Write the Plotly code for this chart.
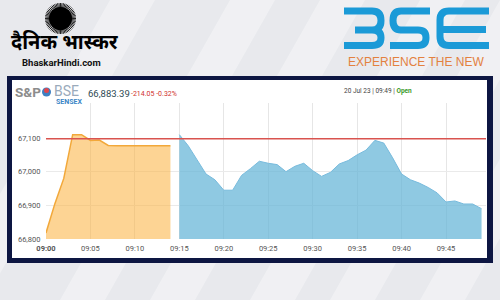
import math
import plotly.graph_objects as go

W, H = 500, 300
def px(x): return x / W
def py(y): return 1 - y / H

# ---------------- data ----------------
pre_open_times = [f"2023-07-20 09:{m:02d}" for m in range(0, 15)]
pre_open_values = [66818, 66905, 66980, 67110, 67110, 67093, 67094, 67078,
                   67077, 67077, 67077, 67077, 67077, 67077, 67077]

session_times = [f"2023-07-20 09:{m:02d}" for m in range(15, 50)]
session_values = [67110, 67077, 67035, 66993, 66976, 66945, 66945, 66989, 67009,
                  67031, 67025, 67021, 67000, 67016, 67025, 67003, 66986, 66998,
                  67023, 67033, 67050, 67064, 67093, 67085, 67041, 66993, 66976,
                  66966, 66953, 66937, 66910, 66913, 66904, 66904, 66890]

prev_close = 67097.44
last_value = 66883.39
change = -214.05
change_pct = -0.32

y_ticks = [66800, 66900, 67000, 67100]
y_tick_labels = ["66,800", "66,900", "67,000", "67,100"]
x_ticks = ["2023-07-20 09:00", "2023-07-20 09:05", "2023-07-20 09:10", "2023-07-20 09:15",
           "2023-07-20 09:20", "2023-07-20 09:25", "2023-07-20 09:30", "2023-07-20 09:35",
           "2023-07-20 09:40", "2023-07-20 09:45"]
x_tick_labels = ["<b>09:00</b>", "09:05", "09:10", "09:15", "09:20", "09:25",
                 "09:30", "09:35", "09:40", "09:45"]

# ---------------- figure ----------------
fig = go.Figure()
fig.add_trace(go.Scatter(x=pre_open_times, y=pre_open_values, mode="lines",
                         line=dict(color="#F2A83A", width=1.5),
                         fill="tozeroy", fillcolor="rgba(252,176,60,0.55)",
                         hoverinfo="skip", showlegend=False))
fig.add_trace(go.Scatter(x=session_times, y=session_values, mode="lines",
                         line=dict(color="#78BBDD", width=1),
                         fill="tozeroy", fillcolor="rgba(100,180,215,0.72)",
                         hoverinfo="skip", showlegend=False))

shapes = []
# background streaks
for x0 in [-60, 60, 150, 250, 330, 420]:
    shapes.append(dict(type="path", xref="paper", yref="paper", layer="below",
                       path=f"M {px(x0)},{py(300)} L {px(x0+45)},{py(300)} L {px(x0+215)},{py(0)} L {px(x0+170)},{py(0)} Z",
                       fillcolor="rgba(255,255,255,0.35)", line=dict(width=0)))
# frame + panel
shapes.append(dict(type="rect", xref="paper", yref="paper", layer="below",
                   x0=px(7), x1=px(493), y0=py(263), y1=py(76),
                   fillcolor="#0D1642", line=dict(width=0)))
shapes.append(dict(type="rect", xref="paper", yref="paper", layer="below",
                   x0=px(12), x1=px(487), y0=py(258), y1=py(80),
                   fillcolor="#FFFFFF", line=dict(width=0)))
# sun logo: rays + core
cx, cy = 60.5, 18.5
rays = []
for i in range(64):
    a = 2 * math.pi * i / 64
    rays += ["M", f"{px(cx + 9 * math.cos(a))},{py(cy + 9 * math.sin(a))}",
             "L", f"{px(cx + 15.5 * math.cos(a))},{py(cy + 15.5 * math.sin(a))}"]
shapes.append(dict(type="path", xref="paper", yref="paper", path=" ".join(rays),
                   line=dict(color="#222222", width=1)))
shapes.append(dict(type="circle", xref="paper", yref="paper",
                   x0=px(cx - 11.5), x1=px(cx + 11.5), y0=py(cy + 11.5), y1=py(cy - 11.5),
                   fillcolor="#000000", line=dict(width=0)))

# BSE big logo (stroke paths, pixel coords converted)
def P(cmds):
    out = []
    for c in cmds:
        if isinstance(c, str):
            out.append(c)
        else:
            out.append(f"{px(c[0])},{py(c[1])}")
    return " ".join(out)

bse_blue = "#1B9AD7"
paths = [
    ["M", (344, 11), "L", (372, 11), "Q", (381, 11), (381, 20.5), "Q", (381, 30), (372, 30), "L", (355, 30),
     "M", (372, 30), "Q", (381, 30), (381, 37.7), "Q", (381, 45.5), (372, 45.5), "L", (344, 45.5)],
    ["M", (430, 11), "L", (401, 11), "Q", (393, 11), (393, 20.5), "Q", (393, 30), (401, 30), "L", (418, 30),
     "Q", (426, 30), (426, 37.7), "Q", (426, 45.5), (418, 45.5), "L", (390, 45.5)],
    ["M", (489, 11), "L", (449, 11), "Q", (440, 11), (440, 20), "L", (440, 36.5), "Q", (440, 45.5), (449, 45.5),
     "L", (489, 45.5), "M", (440, 29.5), "L", (486, 29.5)],
]
for p in paths:
    shapes.append(dict(type="path", xref="paper", yref="paper", path=P(p),
                       fillcolor="rgba(0,0,0,0)", line=dict(color=bse_blue, width=7)))

# small S&P BSE icon
shapes.append(dict(type="circle", xref="paper", yref="paper",
                   x0=px(42), x1=px(51), y0=py(96.5), y1=py(87.5),
                   fillcolor="#3D7FC2", line=dict(width=0)))
shapes.append(dict(type="circle", xref="paper", yref="paper",
                   x0=px(44), x1=px(49), y0=py(93), y1=py(88),
                   fillcolor="#E0474C", line=dict(width=0)))

# previous close line
shapes.append(dict(type="line", xref="x domain", yref="y", x0=0, x1=1,
                   y0=prev_close, y1=prev_close, layer="above",
                   line=dict(color="#D9534F", width=1.5)))

def ann(text, x, y, size, color, family="Roboto, sans-serif", xanchor="center"):
    return dict(text=text, x=px(x), y=py(y), xref="paper", yref="paper",
                xanchor=xanchor, yanchor="middle", showarrow=False,
                font=dict(family=family, size=size, color=color))

annotations = [
    ann("<b>दैनिक भास्कर</b>", 65, 43.5, 20, "#000000", "Noto Sans Devanagari, Noto Sans, sans-serif"),
    ann("<b>BhaskarHindi.com</b>", 61, 63, 9.5, "#111111", "Liberation Sans Narrow, Roboto, sans-serif"),
    ann("EXPERIENCE THE NEW", 416, 62, 12, "#E3813F", "Liberation Sans, Arial, sans-serif"),
    ann("<b>S&P</b>", 13, 92, 13.5, "#8C8C8C", xanchor="left"),
    ann("BSE", 52, 91, 14, "#9AAABB", xanchor="left"),
    ann("<b>SENSEX</b>", 54, 101.5, 7, "#3B86C6", xanchor="left"),
    ann(f"{last_value:,.2f}", 86, 93, 9.5, "#2E4A54", xanchor="left"),
    ann(f"{change:,.2f} {change_pct:.2f}%", 129, 94, 7, "#D0312D", xanchor="left"),
    ann("20 Jul 23 | 09:49 | <span style='color:#3A9A2A'><b>Open</b></span>", 342, 91, 6.5,
        "#444444", xanchor="left"),
]

fig.update_layout(
    width=W, height=H, autosize=False,
    margin=dict(l=0, r=0, t=0, b=0),
    paper_bgcolor="#E8E9ED", plot_bgcolor="#FFFFFF",
    font=dict(family="Roboto, sans-serif", size=8, color="#555555"),
    showlegend=False, shapes=shapes, annotations=annotations,
    xaxis=dict(domain=[px(46), px(486)], type="date",
               range=["2023-07-20 09:00:00", "2023-07-20 09:49:30"],
               tickvals=x_ticks, ticktext=x_tick_labels,
               showgrid=True, gridcolor="#E6E6E6", gridwidth=1,
               zeroline=False, showline=False, automargin=False,
               ticks="outside", ticklen=2, tickcolor="rgba(0,0,0,0)",
               tickfont=dict(family="Roboto, sans-serif", size=7.5, color="#555555")),
    yaxis=dict(domain=[py(239), py(103)], range=[66800, 67204],
               tickvals=y_ticks, ticktext=y_tick_labels,
               showgrid=True, gridcolor="#EAEAEA", gridwidth=1,
               zeroline=False, showline=False, automargin=False,
               ticks="outside", ticklen=3, tickcolor="rgba(0,0,0,0)",
               tickfont=dict(family="Roboto, sans-serif", size=7.5, color="#555555")),
)

fig.write_html("out.html", config={"displayModeBar": False})
